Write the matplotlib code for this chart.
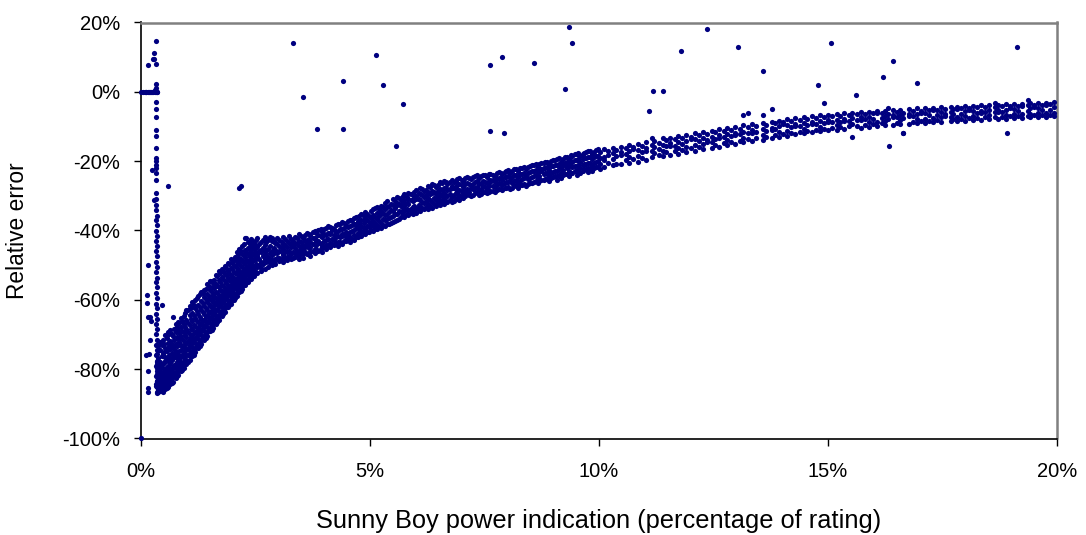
import matplotlib
matplotlib.use("Agg")
import matplotlib.pyplot as plt
from matplotlib.ticker import FuncFormatter

# --- data (percent of rating, relative error %) ---

# zero-error row at the very left
zero_x = [0.0, 0.04, 0.08, 0.10, 0.12, 0.15, 0.18, 0.20, 0.22, 0.25, 0.27,
          0.30, 0.32, 0.34, 0.36, 0.30, 0.33]
zero_y = [0, 0, 0, 0, 0, 0, 0, 0, 0, 0, 0, 0, 0, 0, 0, 0.5, 1.0]

# vertical spike at ~0.33 %
spike_x = [0.33, 0.28, 0.28, 0.33, 0.33, 0.33, 0.33, 0.33, 0.33, 0.33,
           0.33, 0.33, 0.33, 0.33, 0.33, 0.33, 0.33, 0.33, 0.33, 0.33,
           0.33, 0.34, 0.33, 0.34, 0.33, 0.34, 0.33, 0.34, 0.33, 0.34,
           0.33, 0.34, 0.33, 0.34, 0.33, 0.34, 0.33, 0.34, 0.33, 0.34,
           0.33, 0.34, 0.33, 0.34, 0.33, 0.34, 0.33, 0.34, 0.33, 0.34,
           0.33, 0.34, 0.33, 0.34, 0.33, 0.34, 0.33, 0.34, 0.36, 0.36,
           0.36, 0.36, 0.36, 0.36, 0.36, 0.36, 0.36]
spike_y = [14.7, 11.3, 9.5, 7.9, 2.2, -3.0, -4.9, -7.2, -11.0, -12.8,
           -16.2, -19.0, -20.0, -21.0, -22.0, -23.5, -25.4, -29.3, -31.0, -32.6,
           -34.0, -35.7, -37.0, -38.4, -40.1, -41.5, -42.9, -44.6, -46.0, -47.4,
           -49.1, -50.5, -52.0, -53.6, -55.0, -56.4, -58.0, -59.5, -61.1, -62.4,
           -64.0, -65.6, -67.0, -68.3, -70.0, -71.5, -73.1, -74.4, -76.0, -77.6,
           -79.0, -80.4, -82.0, -83.5, -85.0, -86.5, -84.2, -81.3, -73.0, -75.5,
           -77.8, -79.6, -81.9, -83.3, -85.2, -86.8, -78.5]

# isolated points left of the spike
stray_x = [0.15, 0.27, 0.23, 0.28, 0.15, 0.14, 0.14, 0.15, 0.20, 0.21,
           0.20, 0.12, 0.17, 0.15, 0.15, 0.15, 0.0]
stray_y = [7.7, 9.5, -22.5, -31.2, -50.0, -58.6, -61.0, -64.9, -64.9, -66.0,
           -71.6, -75.9, -75.5, -80.4, -85.5, -86.5, -100.0]

# main band near the spike (0.4 - 2.5 %), one list of y values per x
band1_x = [0.37, 0.42, 0.47, 0.53, 0.58, 0.64, 0.70, 0.76, 0.81, 0.87,
           0.93, 0.99, 1.06, 1.12, 1.18, 1.25, 1.31, 1.38, 1.44, 1.51,
           1.57, 1.63, 1.70, 1.76, 1.83, 1.89, 1.96, 2.02, 2.09, 2.15,
           2.21, 2.27, 2.33, 2.40, 2.46,
           0.40, 0.45, 0.50, 0.56, 0.61, 0.67, 0.73, 0.79, 0.84, 0.90,
           0.96, 1.02, 1.09, 1.15, 1.22, 1.28, 1.35, 1.41, 1.48, 1.54,
           1.60, 1.67, 1.73, 1.80, 1.86, 1.93, 1.99, 2.06, 2.12, 2.18,
           2.24, 2.30, 2.37, 2.43, 2.50]
band1_y = [
    [-73.2, -76.8, -79.1, -81.4, -82.9, -84.2, -85.6, -86.7, -78.3, -80.2, -83.7],
    [-72.1, -74.6, -77.9, -80.6, -82.2, -83.4, -85.1, -86.2, -79.4, -84.7],
    [-71.5, -75.3, -76.2, -79.8, -81.1, -82.7, -84.4, -85.8, -86.6],
    [-70.2, -73.8, -76.4, -77.7, -80.3, -81.9, -83.2, -84.6, -85.7],
    [-69.4, -72.5, -74.1, -77.6, -79.4, -80.8, -82.5, -83.9, -85.1],
    [-68.6, -71.9, -74.3, -76.8, -78.2, -80.1, -81.6, -83.3, -84.4],
    [-65.0, -70.4, -73.2, -75.7, -76.9, -79.3, -80.7, -82.4, -83.6],
    [-67.1, -69.2, -72.6, -74.8, -76.5, -78.4, -79.8, -81.2, -82.6],
    [-66.3, -68.7, -71.4, -72.9, -75.8, -77.1, -78.9, -80.4, -81.7],
    [-65.2, -67.8, -70.5, -72.9, -74.6, -76.3, -77.8, -79.5, -80.6],
    [-64.6, -66.9, -69.4, -71.8, -73.7, -75.2, -76.9, -78.4, -79.7],
    [-62.8, -65.7, -68.3, -70.6, -72.4, -74.3, -75.8, -77.3, -78.6],
    [-61.9, -64.5, -67.2, -69.8, -71.3, -73.1, -74.7, -76.2, -77.4],
    [-60.7, -63.8, -66.1, -68.4, -70.2, -72.0, -73.6, -75.1, -76.2],
    [-60.1, -62.4, -65.3, -67.5, -69.3, -70.9, -72.5, -74.0, -75.1],
    [-58.8, -61.6, -64.2, -66.3, -68.1, -69.8, -71.3, -72.7, -73.9],
    [-57.6, -60.3, -62.9, -65.4, -67.0, -68.6, -70.2, -71.6, -72.8],
    [-57.2, -59.1, -61.8, -64.0, -65.9, -67.5, -69.0, -70.4, -71.5],
    [-55.4, -58.4, -60.6, -62.9, -64.7, -66.3, -67.8, -69.3, -70.3],
    [-54.6, -57.3, -59.7, -61.8, -63.6, -65.2, -66.7, -68.1, -69.1],
    [-55.1, -56.2, -58.5, -60.7, -62.4, -64.1, -65.6, -66.9, -68.0],
    [-52.9, -55.4, -57.6, -59.5, -61.3, -62.9, -64.4, -65.8, -66.9],
    [-51.8, -54.3, -56.4, -58.6, -60.2, -61.8, -63.3, -64.7, -65.7],
    [-51.2, -53.5, -55.7, -57.4, -59.1, -60.7, -62.2, -63.5, -64.6],
    [-50.3, -52.6, -54.6, -56.5, -58.2, -59.7, -61.1, -62.4, -63.4],
    [-49.5, -51.7, -53.8, -55.6, -57.2, -58.6, -60.0, -61.3, -62.2],
    [-48.1, -50.8, -52.7, -54.5, -56.1, -57.6, -59.0, -60.2, -61.1],
    [-48.6, -49.9, -51.9, -53.6, -55.2, -56.6, -57.9, -59.1, -60.0],
    [-46.3, -48.8, -50.7, -52.5, -54.1, -55.5, -56.8, -58.0, -58.9],
    [-45.2, -47.9, -49.8, -51.6, -53.2, -54.6, -55.8, -56.9, -57.8],
    [-44.6, -46.8, -48.7, -50.6, -52.1, -53.5, -54.9, -55.9, -56.8],
    [-42.1, -45.7, -47.6, -49.5, -51.2, -52.6, -53.9, -55.0, -55.8],
    [-43.2, -45.1, -46.9, -48.7, -50.3, -51.7, -52.9, -54.0, -54.8],
    [-42.4, -44.3, -46.2, -47.8, -49.4, -50.8, -52.1, -53.1, -53.9],
    [-43.6, -45.4, -47.1, -48.6, -50.1, -51.3, -52.4, -53.2],
    [-74.5, -77.8, -80.9, -83.0, -85.2, -86.4],
    [-73.0, -76.1, -78.6, -81.8, -84.0, -85.5],
    [-72.8, -75.0, -78.2, -80.9, -82.4, -84.9],
    [-71.1, -74.7, -77.0, -79.3, -81.5, -83.8, -85.3],
    [-70.0, -73.4, -76.0, -78.8, -81.2, -83.0],
    [-69.8, -72.7, -75.2, -77.5, -79.9, -82.2, -83.9],
    [-68.3, -71.5, -74.1, -76.3, -78.9, -81.4],
    [-67.7, -70.8, -73.3, -75.6, -77.9, -80.5, -82.0],
    [-66.8, -69.6, -72.1, -74.7, -77.2, -79.4],
    [-66.0, -68.9, -71.2, -73.4, -75.8, -78.1, -80.1],
    [-63.9, -67.8, -70.1, -72.6, -74.9, -77.4],
    [-63.0, -66.6, -69.2, -71.9, -73.8, -76.0, -77.9],
    [-62.5, -65.4, -68.3, -70.7, -72.6, -75.3],
    [-61.4, -64.4, -67.2, -69.6, -71.7, -74.2, -75.8],
    [-59.5, -63.3, -66.2, -68.6, -70.4, -72.9],
    [-58.4, -62.2, -65.0, -67.4, -69.3, -71.9, -73.3],
    [-57.9, -61.0, -63.6, -66.1, -68.1, -70.7],
    [-56.8, -59.8, -62.5, -65.0, -67.0, -69.5, -70.9],
    [-55.9, -58.8, -61.2, -63.9, -65.9, -68.3],
    [-54.7, -57.7, -60.1, -62.8, -64.8, -67.3, -68.7],
    [-54.3, -56.7, -59.2, -61.6, -63.7, -66.1],
    [-53.2, -55.9, -58.1, -60.4, -62.6, -65.0, -66.4],
    [-52.4, -54.8, -57.2, -59.5, -61.5, -64.0],
    [-51.7, -53.9, -56.1, -58.4, -60.5, -62.9, -64.0],
    [-50.9, -52.9, -55.2, -57.4, -59.4, -61.9],
    [-49.8, -52.2, -54.3, -56.3, -58.4, -60.6, -61.6],
    [-49.2, -51.2, -53.3, -55.4, -57.3, -59.6],
    [-47.7, -50.3, -52.3, -54.5, -56.4, -58.5, -59.4],
    [-46.9, -49.4, -51.4, -53.6, -55.3, -57.4],
    [-45.8, -48.3, -50.2, -52.7, -54.4, -56.4, -57.4],
    [-44.0, -47.2, -49.3, -51.6, -53.4, -55.4],
    [-42.3, -46.3, -48.4, -50.4, -52.4, -54.5],
    [-43.8, -45.5, -47.6, -49.6, -51.3, -53.4],
    [-42.9, -44.9, -46.7, -48.9, -50.6, -52.7],
    [-42.6, -44.5, -46.3, -48.3, -49.8, -51.9],
]

# main band, 2.5 - 10 %
band2_x = [2.53, 2.61, 2.70, 2.78, 2.86, 2.93, 3.02, 3.11, 3.19, 3.28,
           3.36, 3.44, 3.53, 3.62, 3.70, 3.79, 3.87, 3.96, 4.04, 4.13,
           4.22, 4.30, 4.39, 4.47, 4.56, 4.64, 4.73, 4.81, 4.90, 4.98,
           5.07, 5.15, 5.24, 5.33, 5.41, 5.50, 5.58, 5.67, 5.75, 5.84,
           5.93, 6.01, 6.10, 6.18, 6.27, 6.35, 6.44, 6.52, 6.61, 6.69,
           6.78, 6.87, 6.95, 7.04, 7.12, 7.21, 7.29, 7.38, 7.46, 7.55,
           7.63, 7.72, 7.81, 7.89, 7.98, 8.06, 8.15, 8.23, 8.32, 8.40,
           8.49, 8.57, 8.66, 8.74, 8.83, 8.91, 9.00, 9.08, 9.17, 9.25,
           9.34, 9.42, 9.51, 9.59, 9.68, 9.76, 9.85, 9.93,
           2.57, 2.66, 2.74, 2.82, 2.90, 2.98, 3.07, 3.15, 3.24, 3.32,
           3.40, 3.49, 3.58, 3.66, 3.75, 3.83, 3.92, 4.00, 4.09, 4.18,
           4.26, 4.35, 4.43, 4.52, 4.60, 4.69, 4.77, 4.86, 4.94, 5.03,
           5.11, 5.20, 5.29, 5.37, 5.46, 5.54, 5.63, 5.71, 5.80, 5.89,
           5.97, 6.06, 6.14, 6.23, 6.31, 6.40, 6.48, 6.57, 6.65, 6.74,
           6.83, 6.91, 7.00, 7.08, 7.17, 7.25, 7.34, 7.42, 7.51, 7.59,
           7.68, 7.77, 7.85, 7.94, 8.02, 8.11, 8.19, 8.28, 8.36, 8.45,
           8.53, 8.62, 8.70, 8.79, 8.87, 8.96, 9.04, 9.13, 9.21, 9.30,
           9.38, 9.47, 9.55, 9.64, 9.72, 9.81, 9.89, 9.97]
band2_y = [
    [-42.2, -44.9, -46.8, -47.4, -50.6, -52.4],
    [-43.4, -45.6, -46.3, -49.2, -50.9, -51.8],
    [-41.9, -44.2, -46.1, -48.3, -48.7, -51.1],
    [-42.8, -45.3, -47.6, -48.8, -50.4],
    [-42.3, -43.1, -45.8, -47.2, -48.6, -50.0],
    [-43.7, -45.5, -46.0, -48.3, -49.6],
    [-42.6, -44.4, -45.9, -47.9, -48.9],
    [-41.9, -43.8, -45.2, -46.7, -47.1, -49.2],
    [-43.1, -44.8, -46.3, -47.6, -48.5],
    [-42.4, -44.0, -44.7, -46.9, -48.2],
    [-41.8, -43.5, -45.1, -46.4, -47.7],
    [-40.9, -42.9, -44.6, -45.9, -47.3, -48.3],
    [-42.2, -44.1, -45.4, -46.8, -47.9],
    [-40.6, -42.7, -43.9, -44.6, -46.9],
    [-41.3, -43.2, -44.8, -46.1, -47.4],
    [-40.2, -42.1, -43.6, -45.2, -46.5],
    [-39.8, -41.4, -43.0, -43.6, -45.9],
    [-40.4, -42.0, -43.5, -44.9, -46.1],
    [-39.3, -41.2, -42.7, -44.2, -45.4],
    [-38.9, -40.6, -40.9, -43.5, -44.8],
    [-39.6, -41.4, -42.8, -44.1],
    [-38.2, -40.1, -41.7, -43.2, -44.5],
    [-37.6, -39.5, -41.1, -41.6, -43.9],
    [-38.4, -40.3, -41.8, -43.1],
    [-37.1, -38.8, -40.4, -41.9, -43.3],
    [-36.5, -38.2, -39.9, -41.4, -42.7],
    [-37.4, -39.1, -40.6, -42.0],
    [-35.3, -37.0, -38.7, -40.2, -41.6],
    [-34.6, -36.4, -37.1, -39.6, -41.1],
    [-35.8, -37.5, -39.0, -40.5],
    [-33.9, -35.6, -37.3, -38.8, -40.2],
    [-33.2, -35.0, -36.7, -38.3, -39.7],
    [-32.8, -34.5, -35.2, -37.7, -39.3],
    [-32.1, -33.8, -35.5, -37.1, -38.6],
    [-32.9, -34.7, -36.4, -38.0],
    [-30.8, -32.6, -34.4, -35.9, -37.5],
    [-30.4, -32.0, -32.7, -35.3, -36.9],
    [-31.2, -32.9, -34.6, -36.2],
    [-29.6, -31.3, -33.0, -34.5, -36.0],
    [-29.1, -30.9, -32.5, -34.1, -35.6],
    [-29.8, -31.6, -33.3, -35.1],
    [-28.3, -30.1, -30.8, -33.4, -34.9],
    [-27.8, -29.6, -31.3, -32.9, -34.5],
    [-28.6, -30.4, -32.1, -33.9],
    [-27.2, -29.0, -30.7, -32.3, -33.8],
    [-26.7, -28.5, -29.2, -31.9, -33.4],
    [-27.5, -29.4, -31.1, -32.9],
    [-26.1, -27.9, -29.6, -31.3, -32.7],
    [-25.8, -27.6, -29.2, -30.8, -32.5],
    [-26.6, -28.3, -30.0, -31.9],
    [-25.3, -27.1, -27.8, -30.4, -31.8],
    [-25.6, -27.4, -29.1, -30.9],
    [-24.9, -26.6, -28.2, -29.8, -31.2],
    [-25.7, -27.5, -29.2, -30.6],
    [-24.6, -26.3, -28.0, -29.6],
    [-25.2, -26.9, -27.6, -30.1],
    [-24.3, -26.1, -27.7, -29.3],
    [-24.8, -26.5, -28.3, -29.7],
    [-23.9, -25.6, -27.2, -28.9],
    [-24.6, -26.2, -27.9, -29.2],
    [-23.7, -25.4, -26.0, -28.7],
    [-24.2, -25.9, -27.5, -28.9],
    [-23.1, -24.8, -26.4, -28.1],
    [-23.6, -25.3, -27.0, -28.4],
    [-22.8, -24.5, -26.1, -27.8],
    [-23.3, -25.0, -25.6, -28.0],
    [-22.4, -24.1, -25.7, -27.3],
    [-22.9, -24.6, -26.2, -27.6],
    [-21.9, -23.6, -25.2, -26.9],
    [-22.3, -24.0, -24.7, -27.1],
    [-21.4, -23.1, -24.8, -26.4],
    [-21.0, -22.7, -24.3, -26.0],
    [-21.6, -23.3, -24.9, -26.2],
    [-20.6, -22.3, -22.9, -25.5],
    [-20.2, -21.9, -23.5, -25.1],
    [-20.9, -22.6, -24.2, -25.7],
    [-19.7, -21.4, -23.0, -24.6],
    [-19.3, -21.0, -22.7, -24.3, -25.4],
    [-20.1, -21.8, -23.4, -24.9],
    [-18.8, -20.5, -21.2, -23.8],
    [-19.4, -21.1, -22.8, -24.4],
    [-18.4, -20.1, -21.7, -23.3],
    [-17.9, -19.6, -21.3, -22.9, -24.1],
    [-18.6, -20.3, -21.9, -23.5],
    [-17.6, -19.2, -20.8, -22.4],
    [-17.2, -18.9, -20.5, -22.1, -23.2],
    [-17.8, -19.5, -21.1, -22.7],
    [-16.9, -18.6, -20.2, -21.8],
    [-43.8, -46.0, -48.1, -50.0],
    [-42.7, -45.0, -47.5, -49.8],
    [-43.4, -45.7, -47.0, -49.1],
    [-42.0, -44.5, -46.5, -48.1, -49.4],
    [-42.9, -45.0, -46.5, -49.2],
    [-42.1, -44.0, -46.4, -47.8],
    [-43.2, -45.0, -46.3, -48.2],
    [-42.4, -44.2, -45.8, -47.9],
    [-41.7, -43.6, -45.9, -47.3],
    [-42.9, -44.5, -46.1, -47.9],
    [-42.1, -44.0, -46.0, -47.0],
    [-41.5, -43.4, -45.2, -46.6],
    [-41.2, -43.0, -44.7, -46.3],
    [-40.9, -42.4, -45.0, -46.5],
    [-40.3, -42.3, -43.9, -45.8],
    [-40.7, -42.6, -44.2, -45.4],
    [-39.6, -41.7, -43.8, -45.2],
    [-39.5, -41.0, -42.9, -44.7],
    [-38.8, -40.8, -42.5, -44.3],
    [-39.2, -40.0, -42.4, -43.9],
    [-38.5, -40.5, -42.0, -43.7],
    [-38.0, -39.7, -41.9, -43.4],
    [-37.9, -39.2, -40.9, -42.9],
    [-37.4, -39.0, -41.2, -42.5],
    [-36.9, -38.5, -40.2, -42.4],
    [-36.2, -38.0, -39.4, -41.8],
    [-35.9, -37.7, -39.6, -41.3],
    [-35.7, -37.8, -39.4, -40.8],
    [-35.2, -36.9, -38.6, -40.4],
    [-34.5, -36.3, -38.0, -40.0],
    [-33.6, -36.1, -37.9, -39.5],
    [-33.9, -35.7, -37.3, -38.9],
    [-33.3, -34.9, -36.6, -38.5],
    [-31.6, -33.3, -35.1, -36.8, -38.2],
    [-32.4, -34.1, -36.2, -37.8],
    [-31.5, -33.4, -35.1, -37.2],
    [-30.6, -32.3, -34.3, -36.6],
    [-30.1, -32.2, -33.6, -35.6],
    [-30.3, -32.0, -33.9, -35.3],
    [-29.4, -31.1, -33.7, -35.0],
    [-28.8, -30.6, -32.9, -34.4],
    [-29.1, -30.8, -32.6, -34.1],
    [-28.0, -29.9, -31.9, -33.5],
    [-28.2, -29.9, -31.6, -33.2],
    [-27.4, -29.4, -31.2, -33.0],
    [-27.0, -29.0, -30.6, -32.5],
    [-26.9, -28.6, -30.4, -32.2],
    [-26.4, -28.4, -30.1, -31.8],
    [-25.9, -27.8, -29.9, -31.6],
    [-26.0, -27.9, -29.4, -31.2],
    [-25.9, -27.7, -29.8, -31.4],
    [-25.2, -27.0, -28.6, -30.6],
    [-25.3, -26.9, -28.6, -30.3],
    [-24.8, -26.7, -28.5, -30.1],
    [-25.0, -26.6, -28.8, -29.9],
    [-24.6, -26.5, -28.1, -29.7],
    [-24.1, -25.8, -27.4, -29.0],
    [-24.4, -26.2, -27.9, -29.4],
    [-24.1, -25.9, -27.4, -29.0],
    [-23.8, -25.7, -27.3, -28.8],
    [-23.9, -25.5, -27.2, -28.5],
    [-23.5, -25.1, -26.9, -28.4],
    [-23.3, -24.9, -26.6, -28.0],
    [-23.0, -24.7, -26.3, -27.7],
    [-22.6, -24.3, -26.0, -27.5],
    [-22.8, -24.6, -26.4, -27.6],
    [-22.2, -23.9, -25.5, -27.0],
    [-22.0, -23.8, -25.6, -26.8],
    [-21.7, -23.3, -24.9, -26.6],
    [-21.7, -23.4, -25.1, -26.5],
    [-21.2, -22.9, -24.6, -26.2],
    [-20.9, -22.5, -24.1, -25.8],
    [-20.8, -22.6, -24.2, -25.7],
    [-20.4, -22.1, -23.8, -25.4],
    [-20.1, -21.8, -23.4, -25.0],
    [-19.9, -21.5, -23.3, -24.9],
    [-19.6, -21.2, -22.9, -24.4],
    [-19.1, -20.7, -22.4, -24.0],
    [-19.4, -21.0, -22.6, -24.1],
    [-18.7, -20.3, -22.1, -23.6],
    [-18.2, -19.9, -21.5, -23.4],
    [-18.0, -19.7, -21.4, -22.9],
    [-17.7, -19.4, -21.0, -22.6],
    [-17.9, -19.4, -21.2, -22.7],
    [-17.4, -19.1, -20.7, -22.2],
    [-17.0, -18.7, -20.4, -21.9],
    [-17.3, -18.9, -20.6, -22.1],
    [-16.6, -18.4, -20.0, -21.6],
]

# main band, 10 - 20 %
band3_x = [10.03, 10.12, 10.20, 10.31, 10.38, 10.47, 10.58, 10.66, 10.74, 10.85,
           10.93, 11.02, 11.15, 11.21, 11.30, 11.39, 11.47, 11.56, 11.66, 11.73,
           11.82, 11.91, 12.01, 12.09, 12.19, 12.27, 12.36, 12.46, 12.53, 12.62,
           12.72, 12.80, 12.89, 12.98, 13.07, 13.14, 13.25, 13.33, 13.42, 13.57,
           13.65, 13.77, 13.84, 13.93, 14.02, 14.11, 14.20, 14.28, 14.39, 14.47,
           14.55, 14.66, 14.73, 14.82, 14.92, 15.00, 15.09, 15.19, 15.27, 15.36,
           15.45, 15.52, 15.63, 15.71, 15.80, 15.90, 15.98, 16.07, 16.17, 16.24,
           16.30, 16.41, 16.50, 16.58, 16.64, 16.76, 16.85, 16.94, 17.02, 17.12,
           17.20, 17.29, 17.37, 17.46, 17.55, 17.69, 17.72, 17.82, 17.91, 17.99,
           18.08, 18.17, 18.26, 18.34, 18.43, 18.52, 18.65, 18.71, 18.79, 18.88,
           18.97, 19.06, 19.14, 19.23, 19.37, 19.41, 19.50, 19.58, 19.67, 19.76,
           19.85, 19.94]
band3_y = [
    [-17.3, -19.1, -20.8, -22.3],
    [-16.5, -18.9, -19.6, -21.6],
    [-17.0, -18.2, -20.6],
    [-16.1, -17.7, -19.4, -21.1],
    [-16.7, -18.5, -20.9],
    [-15.8, -17.4, -18.1, -20.8],
    [-16.3, -18.0, -19.7],
    [-15.4, -17.1, -18.8, -20.4],
    [-16.0, -16.6, -19.3],
    [-15.0, -16.8, -18.5, -20.1],
    [-15.6, -17.3, -19.0],
    [-14.6, -16.3, -17.0, -19.6],
    [-13.4, -15.2, -17.0, -18.7],
    [-14.3, -16.0, -17.7],
    [-14.8, -16.5, -18.3],
    [-13.4, -15.4, -17.1, -18.6],
    [-13.9, -15.7, -17.4],
    [-13.2, -14.9, -15.6, -18.2],
    [-13.7, -15.5, -17.1],
    [-12.8, -14.5, -16.2, -17.8],
    [-13.3, -15.0, -16.8],
    [-12.4, -14.1, -15.8, -17.4],
    [-12.9, -13.6, -16.3],
    [-11.9, -13.7, -15.4, -17.0],
    [-12.5, -14.2, -16.0],
    [-11.6, -13.3, -15.1, -16.6],
    [-12.1, -13.9, -14.5],
    [-11.2, -12.9, -14.6, -16.1],
    [-11.7, -13.5, -15.2],
    [-10.8, -12.5, -13.2, -15.8],
    [-11.3, -13.1, -14.8],
    [-10.4, -12.2, -13.9, -15.4],
    [-10.9, -12.7, -14.4],
    [-10.1, -11.8, -12.4, -15.0],
    [-10.6, -12.3, -14.1],
    [-6.7, -9.7, -11.5, -13.2, -14.6],
    [-6.0, -10.2, -11.9, -13.7],
    [-9.3, -11.1, -11.8, -14.2],
    [-9.8, -11.6, -13.3],
    [-6.7, -9.0, -10.7, -12.4, -13.8],
    [-9.5, -11.2, -12.9],
    [-4.9, -8.6, -10.4, -11.1, -13.3],
    [-9.1, -10.8, -12.5],
    [-8.3, -10.0, -11.7, -12.9],
    [-8.8, -9.4, -12.2],
    [-7.9, -9.7, -11.3, -12.6],
    [-8.4, -10.1, -11.8],
    [-7.6, -9.3, -10.0, -12.3],
    [-8.1, -9.8, -11.5],
    [-7.3, -9.0, -10.7, -12.0],
    [-7.8, -9.5, -11.2],
    [-7.0, -8.7, -9.3, -11.6],
    [-7.5, -9.2, -10.9],
    [-6.8, -8.5, -10.1, -11.3],
    [-7.3, -9.0, -10.6],
    [-6.6, -8.2, -8.8, -11.1],
    [-7.1, -8.8, -10.4],
    [-6.4, -8.0, -9.6, -10.9],
    [-6.9, -8.6, -10.2],
    [-6.2, -7.8, -8.4, -10.7],
    [-6.7, -8.4, -10.0],
    [-6.0, -7.6, -9.2, -12.9],
    [-6.5, -8.1, -9.8],
    [-5.9, -7.4, -8.1, -10.3],
    [-6.3, -7.9, -9.5],
    [-5.7, -7.3, -8.8, -10.1],
    [-6.1, -7.7, -9.3],
    [-5.5, -6.2, -8.7, -9.9],
    [-6.0, -7.5, -9.1],
    [-5.4, -6.9, -8.5, -9.7],
    [-4.6, -6.3, -7.9],
    [-5.2, -6.8, -7.4, -9.5],
    [-5.8, -7.3, -8.9],
    [-5.1, -6.6, -8.2, -9.3],
    [-6.1, -7.6, -11.8],
    [-4.9, -6.4, -7.0, -9.2],
    [-5.5, -7.0, -8.6],
    [-4.8, -6.3, -7.8, -9.0],
    [-5.4, -6.0, -8.4],
    [-4.7, -6.2, -7.7, -8.9],
    [-5.3, -6.8, -8.3],
    [-4.6, -5.2, -7.5, -8.8],
    [-5.1, -6.6, -8.1],
    [-4.5, -5.9, -7.4, -8.7],
    [-5.0, -6.5, -7.1],
    [-4.3, -5.8, -7.3, -8.5],
    [-4.9, -6.4, -7.9],
    [-4.4, -5.0, -7.2, -8.4],
    [-4.8, -6.3, -7.8],
    [-4.1, -5.6, -7.1, -8.3],
    [-4.6, -5.2, -7.6],
    [-4.0, -5.5, -7.0, -8.2],
    [-4.5, -6.0, -7.5],
    [-3.9, -5.4, -6.0, -8.0],
    [-4.4, -5.9, -7.4],
    [-3.8, -5.3, -6.8, -7.9],
    [-3.1, -4.3, -5.8, -7.3],
    [-3.7, -5.2, -5.8, -7.8],
    [-4.2, -5.7, -7.2],
    [-3.6, -5.1, -6.6, -7.7],
    [-4.1, -4.7, -7.1],
    [-3.5, -5.0, -6.5, -7.6],
    [-4.0, -5.5, -7.0],
    [-3.4, -4.0, -6.4, -7.5],
    [-2.4, -3.9, -5.4, -6.9],
    [-3.3, -4.8, -6.3, -7.4],
    [-3.8, -4.4, -6.8],
    [-3.2, -4.7, -6.2, -7.3],
    [-3.7, -5.2, -6.7],
    [-3.1, -3.7, -6.1, -7.2],
    [-3.6, -5.1, -6.6],
    [-3.0, -4.5, -6.0, -7.1],
]

# scattered outliers above / below the band
out_x = [3.32, 3.53, 3.84, 4.40, 4.40, 5.14, 5.28, 5.71, 5.57, 7.61,
         7.88, 8.57, 7.61, 7.92, 9.35, 9.40, 9.26, 11.17, 11.39, 11.10,
         11.78, 12.35, 13.03, 13.57, 14.78, 14.91, 15.07, 15.61, 16.21, 16.43,
         16.95, 19.12, 16.34, 18.91, 0.59, 2.13, 2.18, 0.45, 16.64]
out_y = [14.1, -1.4, -10.6, 3.2, -10.6, 10.6, 2.1, -3.6, -15.7, 7.7,
         10.1, 8.3, -11.2, -11.8, 18.7, 14.1, 0.9, 0.3, 0.3, -5.4,
         11.8, 18.0, 12.9, 6.0, 2.1, -3.1, 14.1, -0.9, 4.3, 8.9,
         2.6, 12.9, -15.6, -11.8, -27.2, -27.8, -27.1, -61.5, -11.8]

x_ticks = [0, 5, 10, 15, 20]
y_ticks = [-100, -80, -60, -40, -20, 0, 20]

# flatten the band columns
pts_x, pts_y = [], []
for cols_x, cols_y in ((band1_x, band1_y), (band2_x, band2_y),
                       (band3_x, band3_y)):
    for bx, ys in zip(cols_x, cols_y):
        pts_x += [bx] * len(ys)
        pts_y += ys
all_x = zero_x + spike_x + stray_x + pts_x + out_x
all_y = zero_y + spike_y + stray_y + pts_y + out_y

plt.rcParams["font.family"] = ["Liberation Sans", "DejaVu Sans"]

W, H = 1086, 535
fig = plt.figure(figsize=(W / 100, H / 100), dpi=100)
ax = fig.add_axes([141 / W, 1 - 438.5 / H, 916 / W, 416 / H])

ax.scatter(all_x, all_y, s=14, c="#000080", linewidths=0, clip_on=False,
           zorder=3)

ax.set_xlim(0, 20)
ax.set_ylim(-100, 20)
ax.set_xticks(x_ticks)
ax.set_yticks(y_ticks)
pct = FuncFormatter(lambda v, p: "%d%%" % v)
ax.xaxis.set_major_formatter(pct)
ax.yaxis.set_major_formatter(pct)
ax.tick_params(direction="out", length=5, width=1, colors="#000000",
               labelsize=14.5)
ax.tick_params(axis="y", pad=10)
ax.tick_params(axis="x", pad=12)

for side in ("left", "bottom"):
    ax.spines[side].set_color("#000000")
    ax.spines[side].set_linewidth(1.2)
for side in ("top", "right"):
    ax.spines[side].set_color("#808080")
    ax.spines[side].set_linewidth(1.8)

ax.set_xlabel("Sunny Boy power indication (percentage of rating)", fontsize=18.3)
ax.set_ylabel("Relative error", fontsize=16.4)
ax.xaxis.set_label_coords(0.5, (438.5 - 521) / 416)
ax.yaxis.set_label_coords((18 - 141) / 916, 0.5)
ax.xaxis.label.set_va("center")
ax.yaxis.label.set_va("center")

fig.savefig("out.png", dpi=100)
plt.close(fig)
